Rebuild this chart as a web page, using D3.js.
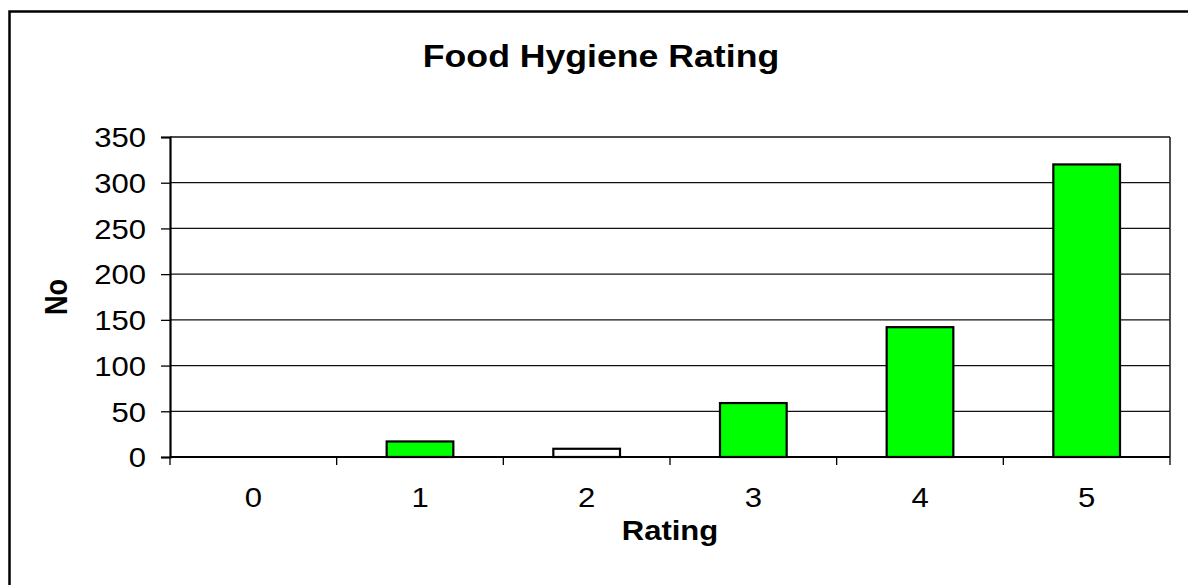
<!DOCTYPE html>
<html>
<head>
<meta charset="utf-8">
<script src="https://cdn.jsdelivr.net/npm/d3@7"></script>
<style>
  body { margin: 0; background: #fff; }
  text { font-family: "Liberation Sans", Arial, sans-serif; fill: #000; }
</style>
</head>
<body>
<div id="chart"></div>
<script>
const ratings = ["0", "1", "2", "3", "4", "5"];
const counts = [0, 17, 9, 59, 142, 320];
const yTicks = [0, 50, 100, 150, 200, 250, 300, 350];
const chartTitle = "Food Hygiene Rating";
const xTitle = "Rating";
const yTitle = "No";

const width = 1188;
const height = 585;
// the source picture is stretched sideways a little, text too
const sx = 1.15;
const margin = { top: 137, right: 18, bottom: 128, left: 170 };
const innerW = width - margin.left - margin.right;
const innerH = height - margin.top - margin.bottom;

const svg = d3.select("#chart").append("svg")
  .attr("width", width)
  .attr("height", height);

// outer frame, only top and left edges are inside the picture
svg.append("path")
  .attr("d", "M9.5,600 V11.5 H1200")
  .attr("fill", "none")
  .attr("stroke", "#000")
  .attr("stroke-width", 2.5);

const g = svg.append("g")
  .attr("transform", `translate(${margin.left},${margin.top})`);

const x = d3.scaleBand()
  .domain(ratings)
  .range([0, innerW])
  .paddingInner(0.6)
  .paddingOuter(0.3);

const y = d3.scaleLinear()
  .domain([0, 350])
  .range([innerH, 0]);

// gridlines
g.append("g")
  .selectAll("line")
  .data(yTicks.filter(d => d > 0))
  .enter()
  .append("line")
  .attr("x1", 0)
  .attr("x2", innerW)
  .attr("y1", d => y(d))
  .attr("y2", d => y(d))
  .attr("stroke", "#111")
  .attr("stroke-width", 1.3);

// right edge of plot area
g.append("line")
  .attr("x1", innerW).attr("x2", innerW)
  .attr("y1", 0).attr("y2", innerH)
  .attr("stroke", "#222")
  .attr("stroke-width", 1.6);

// bars
g.append("g")
  .selectAll("rect")
  .data(ratings.map((r, i) => ({ rating: r, value: counts[i] })))
  .enter()
  .append("rect")
  .attr("x", d => x(d.rating))
  .attr("y", d => y(d.value))
  .attr("width", x.bandwidth())
  .attr("height", d => innerH - y(d.value))
  .attr("fill", d => d.rating === "2" ? "#ffffff" : "#00ff00")
  .attr("stroke", "#000")
  .attr("stroke-width", 2.2)
  .style("display", d => d.value > 0 ? null : "none");

// y axis
const yAxis = g.append("g")
  .call(d3.axisLeft(y).tickValues(yTicks).tickSize(9).tickPadding(15));
yAxis.select(".domain").attr("stroke", "#000").attr("stroke-width", 2.2);
yAxis.selectAll(".tick line").attr("stroke", "#000").attr("stroke-width", 1.3);
yAxis.selectAll(".tick text")
  .attr("font-size", 27)
  .attr("font-family", "Liberation Sans, Arial, sans-serif")
  .attr("x", -24 / sx)
  .attr("dy", "0.36em")
  .attr("transform", `scale(${sx},1)`);

// x axis: ticks sit between the categories
const xAxis = g.append("g")
  .attr("transform", `translate(0,${innerH})`);
xAxis.append("line")
  .attr("x1", 0).attr("x2", innerW)
  .attr("stroke", "#000")
  .attr("stroke-width", 2.2);
const step = innerW / ratings.length;
xAxis.selectAll(".xtick")
  .data(d3.range(ratings.length + 1))
  .enter()
  .append("line")
  .attr("class", "xtick")
  .attr("x1", d => d * step)
  .attr("x2", d => d * step)
  .attr("y1", 0)
  .attr("y2", 8)
  .attr("stroke", "#000")
  .attr("stroke-width", 1.3);
xAxis.selectAll(".xlabel")
  .data(ratings)
  .enter()
  .append("text")
  .attr("class", "xlabel")
  .attr("transform", d => `translate(${x(d) + x.bandwidth() / 2},50) scale(${sx},1)`)
  .attr("text-anchor", "middle")
  .attr("font-size", 27)
  .text(d => d);

// titles
svg.append("text")
  .attr("transform", `translate(601,67) scale(${sx},1)`)
  .attr("text-anchor", "middle")
  .attr("font-size", 31)
  .attr("font-weight", "bold")
  .text(chartTitle);

svg.append("text")
  .attr("transform", `translate(670,540) scale(${sx},1)`)
  .attr("text-anchor", "middle")
  .attr("font-size", 27)
  .attr("font-weight", "bold")
  .text(xTitle);

svg.append("text")
  .attr("transform", `translate(67,297) rotate(-90) scale(1,${sx})`)
  .attr("text-anchor", "middle")
  .attr("font-size", 27)
  .attr("font-weight", "bold")
  .text(yTitle);
</script>
</body>
</html>
